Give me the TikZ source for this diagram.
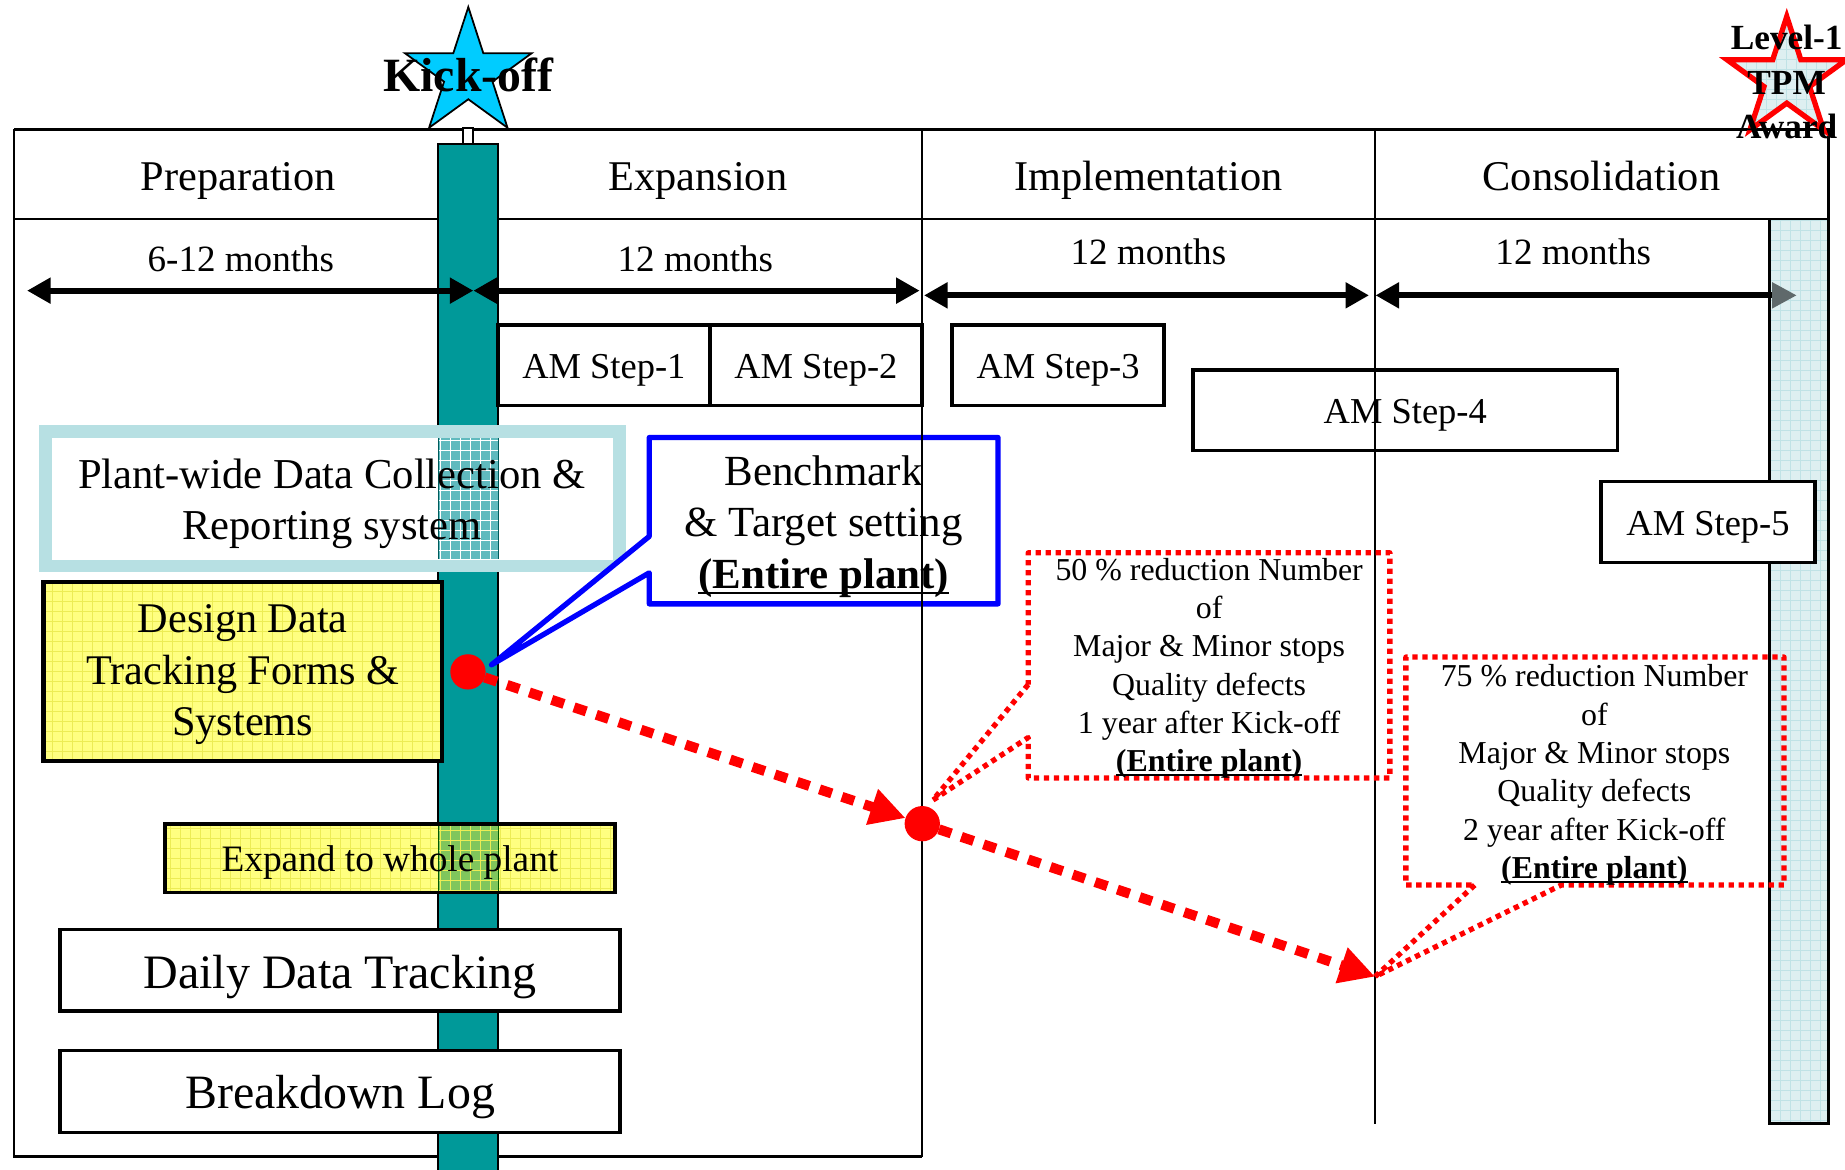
\documentclass[tikz,border=0pt]{standalone}
\usepackage{fontspec}
\setmainfont{Liberation Serif}
\usetikzlibrary{arrows.meta,shapes.geometric,calc}

\definecolor{barteal}{RGB}{0,153,153}
\definecolor{kickcyan}{RGB}{0,204,255}
\definecolor{plantrim}{RGB}{183,224,227}
\definecolor{awardfill}{RGB}{222,239,241}
\definecolor{awardgrid}{RGB}{192,226,230}
\definecolor{padyellow}{RGB}{255,255,128}
\definecolor{yellowgrid}{RGB}{236,236,84}
\definecolor{tealmix}{RGB}{96,186,190}
\definecolor{greenmix}{RGB}{128,198,92}
\definecolor{tipgray}{RGB}{95,105,107}

\newcommand\fsz[2]{\fontsize{#1pt}{#2pt}\selectfont}
\newsavebox\entirebox
\newcommand\entireplant{\sbox\entirebox{\bfseries(Entire plant)}\rlap{\rule[-0.13em]{\wd\entirebox}{0.05em}}\usebox\entirebox}

\begin{document}
\begin{tikzpicture}[x=1pt,y=-1pt,
  frameline/.style={line width=2.2pt},
  box/.style={draw, line width=3pt, fill=white, inner sep=0pt, outer sep=0pt, text depth=0pt},
  hdr/.style={font=\fsz{36}{43}, anchor=base, inner sep=0pt},
  dur/.style={font=\fsz{31.5}{38}, anchor=base, inner sep=0pt},
  amstep/.style={box, minimum width=180pt, minimum height=68.5pt, font=\fsz{31}{37}, text height=22.4pt},
  txt/.style={inner sep=0pt, align=center},
  span/.style={line width=5pt, {Triangle[length=20pt,width=21pt]}-{Triangle[length=20pt,width=21pt]}},
  padgrid/.style={path picture={\draw[yellowgrid, line width=0.6pt, step=8.5pt]
     (path picture bounding box.south west) grid (path picture bounding box.north east);}},
  colgrid/.style={path picture={\draw[awardgrid, line width=0.6pt, step=8.5pt]
     (path picture bounding box.south west) grid (path picture bounding box.north east);}},
  reddot/.style={circle, fill=red, inner sep=0pt, outer sep=0pt, minimum size=30pt},
  goal/.style={red, line width=8.5pt, dash pattern=on 11pt off 9pt, -{Triangle[length=30pt,width=30pt]}},
  redcall/.style={red, line width=4.5pt, dash pattern=on 4.5pt off 4pt, line join=round},
  starshape/.style={star, star points=5, star point ratio=2.618, inner sep=0pt, outer sep=0pt},
]
\useasboundingbox (0,0) rectangle (1568,994);

% key positions
\coordinate (dot1c) at (397.7,571);
\coordinate (dot2c) at (783.8,700);
\coordinate (t3) at (1168.6,830);
\coordinate (tipB) at ($(dot1c)+(20,-6)$);
\coordinate (tip50) at ($(dot2c)+(9,-20)$);

% table frame
\draw[frameline] (12,110) -- (1554,110) -- (1554,186);
\draw[frameline] (12,186) -- (1554,186);
\draw[frameline] (12,110) -- (12,983) -- (783.5,983);

% kick-off bar with its stem
\fill[barteal] (372.5,122.4) rectangle (423.5,994);
\draw[line width=2pt] (372.5,994) -- (372.5,122.4) -- (423.5,122.4) -- (423.5,994);
\draw[fill=white, line width=1.5pt] (393.2,108.5) rectangle (402.2,122.4);

% award column
\path[fill=awardfill, colgrid] (1503.6,186) rectangle (1554,955);
\draw[line width=2.2pt] (1503.6,186) rectangle (1554,955);

% duration arrows
\coordinate (a0) at (23,247);
\coordinate (a1) at (402.3,247);
\coordinate (a2) at (781.6,247);
\coordinate (b0) at (785.3,251);
\coordinate (b1) at (1163.5,251);
\coordinate (b2) at (1169,251);
\coordinate (b3) at (1527,251);
\draw[span] (a0) -- (a1);
\draw[span] (a1) -- (a2);
\draw[span] (b0) -- (b1);
\draw[line width=5pt, {Triangle[length=20pt,width=21pt]}-{Triangle[length=21pt,width=21pt,color=tipgray]}] (b2) -- (b3);

% stars
\node[starshape, minimum size=113.4pt, draw, line width=1.5pt, fill=kickcyan] (kick) at (398,62.7) {};
\node[font=\fsz{40.6}{48}\bfseries, anchor=base, inner sep=0pt] (kickTxt) at (398,78) {Kick-off};
\node[starshape, minimum size=106.6pt, draw=red, line width=4.5pt, fill=awardfill, colgrid] (award) at (1518.5,67.3) {};
\node[txt, font=\fsz{30}{37.8}\bfseries] (awardTxt) at (1518.4,69.8) {Level-1\\TPM\\Award};

% phase headings
\node[hdr] (hPrep) at (202.5,161.5) {Preparation};
\node[hdr] (hExp) at (593,161.5) {Expansion};
\node[hdr] (hImp) at (976,161.5) {Implementation};
\node[hdr] (hCon) at (1361,161.5) {Consolidation};

% durations
\node[dur] (d1) at (204.7,231) {6-12 months};
\node[dur] (d2) at (591,231) {12 months};
\node[dur] (d3) at (976,224.5) {12 months};
\node[dur] (d4) at (1337,224.5) {12 months};

% autonomous maintenance steps
\node[amstep] (am1) at (513.2,310.3) {AM Step-1};
\node[amstep, minimum width=180.2pt] (am2) at (693.4,310.3) {AM Step-2};
\node[amstep] (am3) at (899.2,310.3) {AM Step-3};
\node[amstep, minimum width=360.8pt, minimum height=68.6pt] (am4) at (1194.3,348.7) {AM Step-4};
\node[amstep, minimum width=181.6pt, minimum height=68.6pt] (am5) at (1451.6,443.6) {AM Step-5};

% data collection system
\node[draw=plantrim, line width=10.8pt, fill=white, minimum width=487.7pt, minimum height=114.1pt, inner sep=0pt] (plant) at (282.6,424) {};
\fill[tealmix] (372.5,372.5) rectangle (423.5,475.3);
\begin{scope}
  \clip (372.5,372.5) rectangle (423.5,475.3);
  \draw[white, line width=0.7pt, step=8.5pt] (372.5,372.5) grid (423.5,475.3);
\end{scope}
\draw[barteal!60!black, line width=1pt] (372.5,372.5) -- (372.5,475.3) (423.5,372.5) -- (423.5,475.3);
\node[txt, font=\fsz{36.2}{43}] (plantTxt) at (282,428.1) {Plant-wide Data Collection \&\\Reporting system};

% tracking forms
\node[box, line width=3.5pt, fill=padyellow, padgrid, minimum width=338.6pt, minimum height=152.2pt] (design) at (206.3,570.4) {};
\node[txt, font=\fsz{35.9}{43.7}] (designTxt) at (206.3,573.5) {Design Data\\Tracking Forms \&\\Systems};

% roll-out
\node[box, fill=padyellow, padgrid, minimum width=382.4pt, minimum height=58.3pt] (expand) at (331.4,729.5) {};
\begin{scope}
  \clip (372.5,701.8) rectangle (423.5,757.1);
  \fill[greenmix] (372.5,701.8) rectangle (423.5,757.1);
  \draw[yellowgrid, line width=0.6pt, step=8.5pt] (372.5,701.8) grid (423.5,757.1);
\end{scope}
\draw[green!35!black, line width=1pt] (372.5,701.8) -- (372.5,757.1) (423.5,701.8) -- (423.5,757.1);
\node[font=\fsz{31.7}{38}, anchor=base, inner sep=0pt] (expandTxt) at (331.4,740.8) {Expand to whole plant};

\node[box, minimum width=476pt, minimum height=69.4pt, font=\fsz{40.8}{48}, text height=30.8pt] (daily) at (289,824.5) {Daily Data Tracking};
\node[box, minimum width=476pt, minimum height=69.4pt, font=\fsz{40.7}{48}, text height=28.6pt] (brk) at (289,927.6) {Breakdown Log};

% benchmark callout
\node[inner sep=0pt, minimum width=296pt, minimum height=141pt] (bench) at (700,442.5) {};
\draw[blue, line width=4.5pt, fill=white, line join=round]
  ($(bench.north west)+(0,84)$) -- (tipB) -- ($(bench.north west)+(0,115)$)
  -- (bench.south west) -- (bench.south east) -- (bench.north east) -- (bench.north west) -- cycle;
\node[txt, font=\fsz{36.5}{44}] (benchTxt) at (700,447.4) {Benchmark\\\& Target setting\\\entireplant};

% phase dividers
\draw[frameline] (783.5,110) -- (783.5,983);
\draw[frameline] (1168.4,110) -- (1168.4,955);

% target callouts
\node[inner sep=0pt, minimum width=307pt, minimum height=191pt] (c50) at (1027.5,565.5) {};
\draw[redcall] ($(c50.north west)+(0,112)$) -- (tip50) -- ($(c50.north west)+(0,157)$)
  -- (c50.south west) -- (c50.south east) -- (c50.north east) -- (c50.north west) -- cycle;
\node[txt, font=\fsz{27.1}{32.6}] (c50Txt) at (1027.6,568) {50 \% reduction Number\\of\\Major \& Minor stops\\Quality defects\\1 year after Kick-off\\\entireplant};

\node[inner sep=0pt, minimum width=321pt, minimum height=193.4pt] (c75) at (1355.5,655.3) {};
\draw[redcall] ($(c75.south west)+(58.5,0)$) -- (t3) -- ($(c75.south west)+(132,0)$)
  -- (c75.south east) -- (c75.north east) -- (c75.north west) -- (c75.south west) -- cycle;
\node[txt, font=\fsz{27.1}{32.6}] (c75Txt) at (1355,658.7) {75 \% reduction Number\\of\\Major \& Minor stops\\Quality defects\\2 year after Kick-off\\\entireplant};

% milestones and progress arrows
\node[reddot] (dot1) at (dot1c) {};
\node[reddot] (dot2) at (dot2c) {};
\draw[goal] (dot1) -- (dot2);
\draw[goal] (dot2) -- (t3);
\end{tikzpicture}
\end{document}
